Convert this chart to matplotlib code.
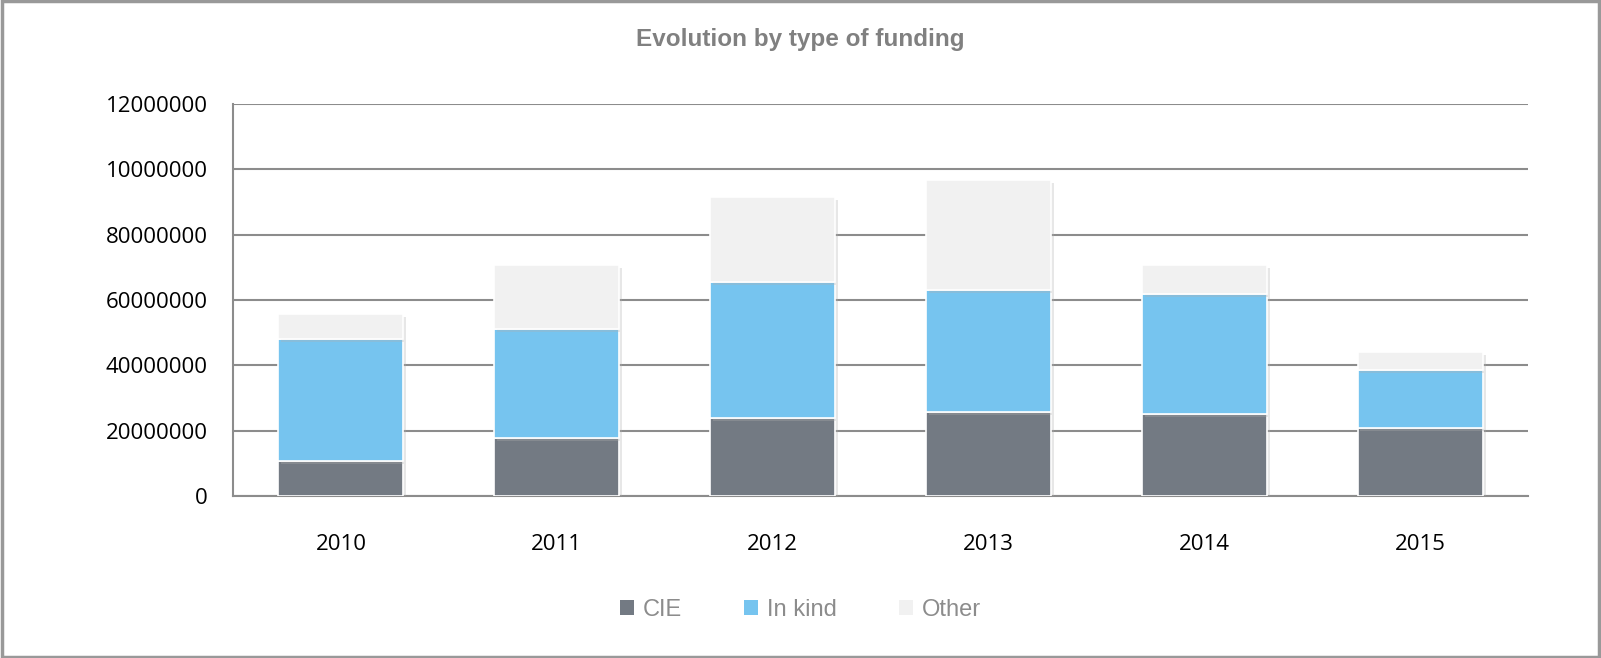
import matplotlib.pyplot as plt
import matplotlib.patheffects as pe
from matplotlib.patches import Patch
import numpy as np

years = ['2010', '2011', '2012', '2013', '2014', '2015']
cie = [10700000, 17800000, 23900000, 25700000, 25100000, 20800000]
in_kind = [37400000, 33300000, 41600000, 37400000, 36700000, 17800000]
other = [7600000, 19600000, 26000000, 33600000, 8900000, 5500000]

ytick_vals = [0, 20000000, 40000000, 60000000, 80000000, 100000000, 120000000]
ytick_labels = ['0', '20000000', '40000000', '60000000', '80000000', '10000000', '12000000']

colors = ['#737a83', '#76c4ef', '#f1f1f1']

fig = plt.figure(figsize=(16.01, 6.58), dpi=100)
ax = fig.add_axes([0.1455, 0.2462, 0.809, 0.5958])

x = np.arange(len(years))
shadow = [pe.SimplePatchShadow(offset=(2, -2), shadow_rgbFace='#b0b0b0', alpha=0.3), pe.Normal()]

b1 = ax.bar(x, cie, width=0.58, color=colors[0], edgecolor='white', linewidth=1.2, zorder=3)
b2 = ax.bar(x, in_kind, width=0.58, bottom=cie, color=colors[1], edgecolor='white', linewidth=1.2, zorder=3)
bottom2 = [a + b for a, b in zip(cie, in_kind)]
b3 = ax.bar(x, other, width=0.58, bottom=bottom2, color=colors[2], edgecolor='white', linewidth=1.2, zorder=3)
for bars in (b1, b2, b3):
    for r in bars:
        r.set_path_effects(shadow)

ax.set_xlim(-0.5, 5.5)
ax.set_ylim(0, 120000000)
ax.set_yticks(ytick_vals)
ax.set_yticklabels(ytick_labels)
ax.set_xticks(x)
ax.set_xticklabels(years)
ax.grid(axis='y', color='#8c8c8c', linewidth=1.5, zorder=0)
ax.set_axisbelow(True)

for s in ['top', 'right']:
    ax.spines[s].set_visible(False)
ax.spines['left'].set_color('#8c8c8c')
ax.spines['bottom'].set_color('#8c8c8c')
ax.spines['left'].set_linewidth(1.5)
ax.spines['bottom'].set_linewidth(1.5)
ax.tick_params(axis='both', length=0, labelsize=16, colors='black')
ax.tick_params(axis='y', pad=18)
ax.tick_params(axis='x', pad=27)
for lbl in ax.get_yticklabels() + ax.get_xticklabels():
    lbl.set_fontfamily('Open Sans')

fig.text(0.5, 0.94, 'Evolution by type of funding', ha='center', va='center',
         fontsize=17.5, fontweight='bold', color='#808080', family='Liberation Sans')

handles = [Patch(facecolor=c, edgecolor='none') for c in colors]
leg = fig.legend(handles, ['CIE', 'In kind', 'Other'], loc='center', bbox_to_anchor=(0.5, 0.073), ncol=3,
                 frameon=False, handlelength=0.6, handleheight=0.6, handletextpad=0.4, columnspacing=2.6,
                 prop={'family': 'Liberation Sans', 'size': 17})
for t in leg.get_texts():
    t.set_color('#8c8c8c')

fig.patches.append(plt.Rectangle((0.001, 0.001), 0.998, 0.997, transform=fig.transFigure, fill=False,
                                 edgecolor='#999999', linewidth=2.5))

fig.savefig('out.png', dpi=100)
